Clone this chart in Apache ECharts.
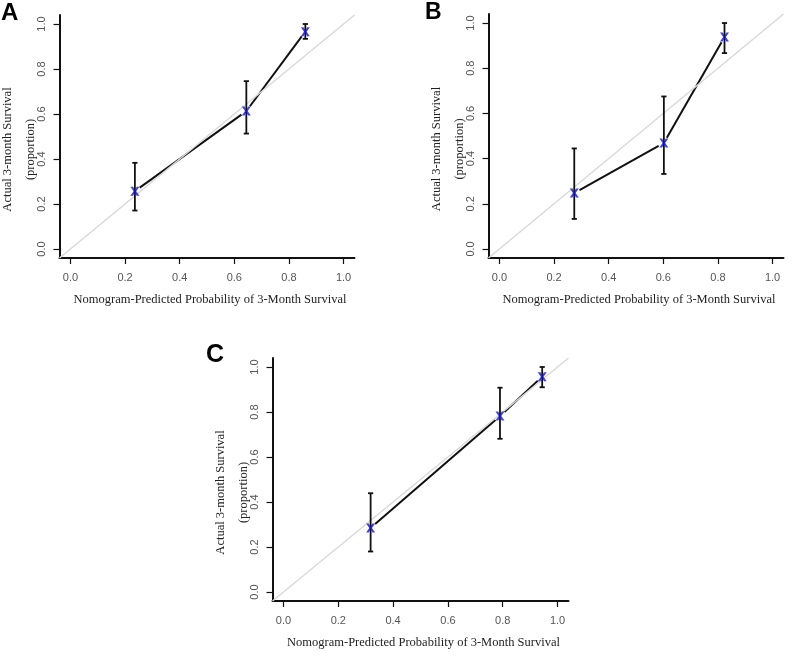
<!DOCTYPE html>
<html>
<head>
<meta charset="utf-8">
<script src="https://cdn.jsdelivr.net/npm/echarts@6/dist/echarts.min.js"></script>
<style>html,body{margin:0;padding:0;background:#fff;}#main{width:796px;height:663px;}</style>
</head>
<body>
<div id="main"></div>
<script>
// ---- data ----
const panelLabels = ['A', 'B', 'C'];
const tickValues = [0, 0.2, 0.4, 0.6, 0.8, 1.0];
const axisMin = -0.04;
const axisMax = 1.04;
const xTitle = 'Nomogram-Predicted Probability of 3-Month Survival';
const yTitle = 'Actual 3-month Survival\n(proportion)';

const predictedA = [0.236, 0.644, 0.860];
const observedA  = [0.257, 0.613, 0.966];
const lowerA     = [0.171, 0.513, 0.934];
const upperA     = [0.383, 0.746, 1.000];

const predictedB = [0.274, 0.602, 0.824];
const observedB  = [0.248, 0.469, 0.938];
const lowerB     = [0.133, 0.332, 0.867];
const upperB     = [0.445, 0.675, 1.000];

const predictedC = [0.318, 0.790, 0.944];
const observedC  = [0.285, 0.782, 0.957];
const lowerC     = [0.180, 0.681, 0.910];
const upperC     = [0.439, 0.908, 1.000];

const panels = [
  {pred: predictedA, obs: observedA, lo: lowerA, hi: upperA},
  {pred: predictedB, obs: observedB, lo: lowerB, hi: upperB},
  {pred: predictedC, obs: observedC, lo: lowerC, hi: upperC}
];

// ---- layout ----
const grids = [
  {left: 59.5, top: 15, width: 295, height: 243},
  {left: 488.5, top: 14, width: 295, height: 244},
  {left: 272.5, top: 358, width: 296, height: 243}
];
const labelPos = [
  {left: 1, top: 1, size: 24},
  {left: 425, top: 1, size: 23},
  {left: 206, top: 343, size: 25}
];

const serif = '"Liberation Serif", "DejaVu Serif", serif';
const sans = '"Liberation Sans", Arial, sans-serif';
const markerPath = 'path://M0,0 L3,0 L5,3.5 L7,0 L10,0 L6.5,5 L10,10 L7,10 L5,6.5 L3,10 L0,10 L3.5,5 Z';

const option = {
  backgroundColor: '#fff',
  animation: false,
  title: panelLabels.map((t, i) => ({
    text: t, left: labelPos[i].left, top: labelPos[i].top, padding: 0,
    textStyle: {fontFamily: sans, fontWeight: 'bold', fontSize: labelPos[i].size, color: '#000'}
  })),
  grid: grids.map(g => Object.assign({containLabel: false, outerBoundsMode: 'none'}, g)),
  xAxis: grids.map((g, i) => ({
    gridIndex: i, type: 'value', min: axisMin, max: axisMax,
    name: xTitle, nameLocation: 'middle', nameGap: 35, nameMoveOverlap: false,
    nameTextStyle: {fontFamily: serif, fontSize: 12.5, color: '#222', padding: [0, 0, 0, 6]},
    axisLine: {show: true, onZero: false, lineStyle: {color: '#111', width: 2}},
    axisTick: {show: true, customValues: tickValues, length: 6, lineStyle: {color: '#111', width: 1.2}},
    axisLabel: {customValues: tickValues, margin: 14, fontFamily: sans, fontSize: 11, color: '#555',
      formatter: v => v.toFixed(1)},
    splitLine: {show: false}
  })),
  yAxis: grids.map((g, i) => ({
    gridIndex: i, type: 'value', min: axisMin, max: axisMax,
    name: yTitle, nameLocation: 'middle', nameGap: 17, nameRotate: 90, nameMoveOverlap: false,
    nameTextStyle: {fontFamily: serif, fontSize: 12.5, color: '#222', lineHeight: 23, padding: [0, 26, 0, 0]},
    axisLine: {show: true, onZero: false, lineStyle: {color: '#111', width: 2}},
    axisTick: {show: true, customValues: tickValues, length: 6, lineStyle: {color: '#111', width: 1.2}},
    axisLabel: {customValues: tickValues, margin: 12.5, rotate: 90, fontFamily: sans, fontSize: 11, color: '#555',
      formatter: v => v.toFixed(1)},
    splitLine: {show: false}
  })),
  series: []
};

panels.forEach((p, i) => {
  // connecting segments (type "b" style: gaps near the points)
  const segs = [];
  for (let k = 0; k < p.pred.length - 1; k++) {
    segs.push([p.pred[k], p.obs[k], p.pred[k + 1], p.obs[k + 1]]);
  }
  option.series.push({
    type: 'custom', xAxisIndex: i, yAxisIndex: i, z: 2, silent: true,
    data: segs,
    renderItem: function (params, api) {
      const a = api.coord([api.value(0), api.value(1)]);
      const b = api.coord([api.value(2), api.value(3)]);
      const dx = b[0] - a[0], dy = b[1] - a[1];
      const len = Math.sqrt(dx * dx + dy * dy);
      const gap = 6;
      const ux = dx / len, uy = dy / len;
      return {
        type: 'line',
        shape: {x1: a[0] + ux * gap, y1: a[1] + uy * gap, x2: b[0] - ux * gap, y2: b[1] - uy * gap},
        style: {stroke: '#111', lineWidth: 2}
      };
    }
  });
  // ideal diagonal
  option.series.push({
    type: 'line', xAxisIndex: i, yAxisIndex: i, z: 3, silent: true,
    data: [[axisMin, axisMin], [axisMax, axisMax]],
    symbol: 'none', lineStyle: {color: '#dadada', width: 1.6}
  });
  // error bars
  option.series.push({
    type: 'custom', xAxisIndex: i, yAxisIndex: i, z: 4, silent: true,
    data: p.pred.map((x, k) => [x, p.lo[k], p.hi[k]]),
    renderItem: function (params, api) {
      const lo = api.coord([api.value(0), api.value(1)]);
      const hi = api.coord([api.value(0), api.value(2)]);
      const c = 2.6;
      const st = {stroke: '#111', lineWidth: 1.8};
      return {
        type: 'group',
        children: [
          {type: 'line', shape: {x1: lo[0], y1: lo[1], x2: hi[0], y2: hi[1]}, style: st},
          {type: 'line', shape: {x1: lo[0] - c, y1: lo[1], x2: lo[0] + c, y2: lo[1]}, style: st},
          {type: 'line', shape: {x1: hi[0] - c, y1: hi[1], x2: hi[0] + c, y2: hi[1]}, style: st}
        ]
      };
    }
  });
  // observed points
  option.series.push({
    type: 'scatter', xAxisIndex: i, yAxisIndex: i, z: 5, silent: true,
    data: p.pred.map((x, k) => [x, p.obs[k]]),
    symbol: markerPath, symbolSize: 9,
    itemStyle: {color: '#1414c8'}
  });
});

const chart = echarts.init(document.getElementById('main'), null, {renderer: 'canvas'});
chart.setOption(option);
</script>
</body>
</html>
